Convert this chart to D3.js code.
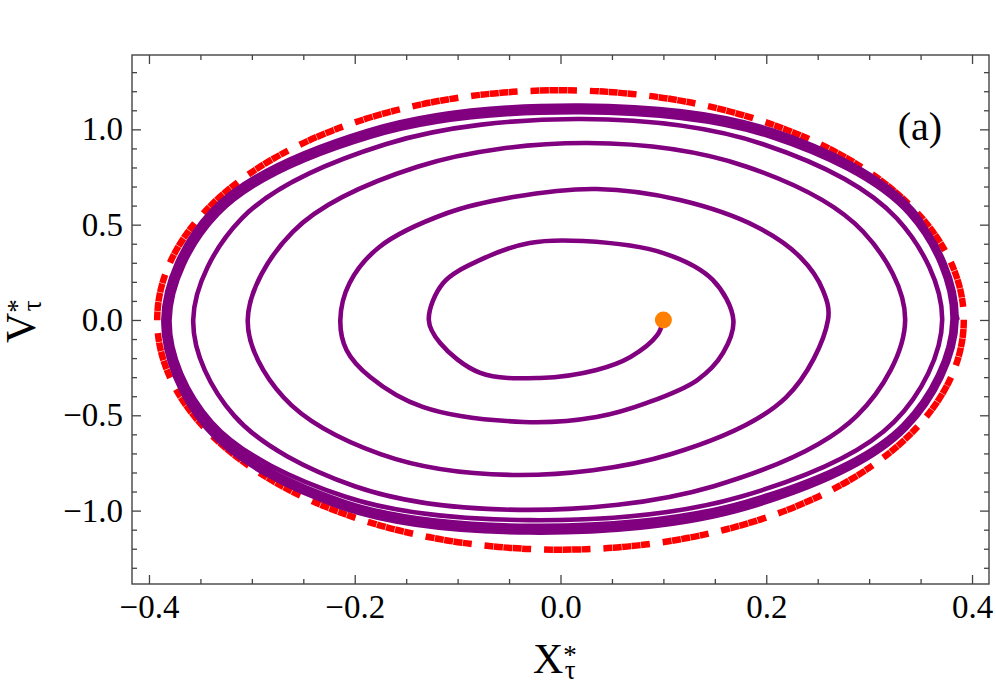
<!DOCTYPE html>
<html>
<head>
<meta charset="utf-8">
<script src="https://cdn.jsdelivr.net/npm/d3@7"></script>
<style>
  body { margin: 0; background: #fff; }
  svg text { font-family: "Liberation Serif", "DejaVu Serif", serif; }
</style>
</head>
<body>
<div id="chart"></div>
<script>
// tick values
var xMajor = [-0.4, -0.2, 0.0, 0.2, 0.4];
var xMinor = [-0.35, -0.3, -0.25, -0.15, -0.1, -0.05, 0.05, 0.1, 0.15, 0.25, 0.3, 0.35];
var vMajor = [-1.0, -0.5, 0.0, 0.5, 1.0];
var vMinor = [-1.3, -1.2, -1.1, -0.9, -0.8, -0.7, -0.6, -0.4, -0.3, -0.2, -0.1,
              0.1, 0.2, 0.3, 0.4, 0.6, 0.7, 0.8, 0.9, 1.1, 1.2, 1.3];

// trajectory, [X, V], one array per turn
var turn1 = [
  [0.100, 0.000], [0.094, -0.080], [0.068, -0.194], [0.035, -0.262], [-0.020, -0.304],
  [-0.078, -0.278], [-0.117, -0.121], [-0.128, 0.000], [-0.114, 0.194], [-0.078, 0.315],
  [-0.030, 0.404], [0.022, 0.414], [0.100, 0.351], [0.148, 0.210], [0.168, 0.000]
];
var turn2 = [
  [0.158, -0.173], [0.133, -0.315], [0.084, -0.435], [0.035, -0.509], [-0.036, -0.535],
  [-0.134, -0.456], [-0.185, -0.299], [-0.208, -0.157], [-0.214, 0.000], [-0.205, 0.194],
  [-0.176, 0.383], [-0.110, 0.561], [-0.046, 0.645], [0.035, 0.687], [0.116, 0.629],
  [0.191, 0.488], [0.233, 0.330], [0.255, 0.157], [0.260, 0.000]
];
var turn3 = [
  [0.219, -0.407], [0.107, -0.704], [-0.046, -0.813],
  [-0.175, -0.704], [-0.269, -0.407], [-0.304, 0.000],
  [-0.260, 0.464], [-0.139, 0.804], [0.026, 0.928],
  [0.181, 0.804], [0.294, 0.464], [0.335, 0.000]
];
var turn4 = [
  [0.288, -0.503], [0.149, -0.872], [-0.040, -0.996],
  [-0.200, -0.872], [-0.317, -0.503], [-0.357, 0.000],
  [-0.310, 0.532], [-0.170, 0.922], [0.020, 1.054],
  [0.197, 0.922], [0.327, 0.532], [0.371, 0.000]
];
var turn5 = [
  [0.324, -0.536], [0.175, -0.927], [-0.030, -1.050],
  [-0.209, -0.927], [-0.339, -0.536], [-0.380, 0.000],
  [-0.333, 0.556], [-0.184, 0.962], [0.020, 1.090],
  [0.204, 0.962], [0.339, 0.556], [0.381, 0.000]
];
var turn6 = [
  [0.333, -0.551], [0.180, -0.954], [-0.030, -1.080],
  [-0.210, -0.954], [-0.342, -0.551], [-0.383, 0.000],
  [-0.336, 0.564], [-0.186, 0.976], [0.020, 1.105],
  [0.205, 0.976], [0.341, 0.564], [0.383, 0.000]
];
var turn7 = [
  [0.335, -0.561], [0.181, -0.971], [-0.030, -1.100],
  [-0.211, -0.971], [-0.344, -0.561], [-0.385, 0.000],
  [-0.338, 0.570], [-0.187, 0.987], [0.020, 1.118],
  [0.206, 0.987], [0.342, 0.570], [0.385, 0.000]
];
var turn8 = [
  [0.336, -0.569], [0.182, -0.985], [-0.030, -1.115],
  [-0.212, -0.985], [-0.344, -0.569], [-0.386, 0.000],
  [-0.339, 0.574], [-0.187, 0.993], [0.020, 1.125],
  [0.207, 0.993], [0.343, 0.574], [0.386, 0.000]
];

// starting point and the dashed outer orbit (semi-axes in X and V)
var startPoint = [0.1, 0.0];
var orbitSemiAxes = [0.392, 1.205];

/********************************************************/
var svgWidth = 996, svgHeight = 690;
var frame = { left: 132, right: 989, top: 55, bottom: 584 };

var svg = d3.select("#chart").append("svg")
  .attr("width", svgWidth)
  .attr("height", svgHeight);

var x = d3.scaleLinear().domain([-0.4165, 0.4165]).range([frame.left, frame.right]);
var y = d3.scaleLinear().domain([-1.385, 1.39]).range([frame.bottom, frame.top]);

var axisColor = "#444";

function styleAxis(g, fontSize) {
  g.select(".domain").remove();
  g.selectAll("line").attr("stroke", axisColor).attr("stroke-width", 1.3);
  g.attr("font-size", fontSize).attr("font-family", null);
  g.selectAll("text").attr("fill", "#000");
}

// bottom
svg.append("g").attr("transform", "translate(0," + frame.bottom + ")")
  .call(d3.axisBottom(x).tickValues(xMajor).tickSize(-9).tickPadding(11).tickFormat(d3.format(".1f")))
  .call(styleAxis, 33);
svg.append("g").attr("transform", "translate(0," + frame.bottom + ")")
  .call(d3.axisBottom(x).tickValues(xMinor).tickSize(-5).tickFormat(""))
  .call(styleAxis, 10);
// top
svg.append("g").attr("transform", "translate(0," + frame.top + ")")
  .call(d3.axisTop(x).tickValues(xMajor).tickSize(-9).tickFormat(""))
  .call(styleAxis, 10);
svg.append("g").attr("transform", "translate(0," + frame.top + ")")
  .call(d3.axisTop(x).tickValues(xMinor).tickSize(-5).tickFormat(""))
  .call(styleAxis, 10);
// left
svg.append("g").attr("transform", "translate(" + frame.left + ",0)")
  .call(d3.axisLeft(y).tickValues(vMajor).tickSize(-9).tickPadding(9).tickFormat(d3.format(".1f")))
  .call(styleAxis, 33);
svg.append("g").attr("transform", "translate(" + frame.left + ",0)")
  .call(d3.axisLeft(y).tickValues(vMinor).tickSize(-5).tickFormat(""))
  .call(styleAxis, 10);
// right
svg.append("g").attr("transform", "translate(" + frame.right + ",0)")
  .call(d3.axisRight(y).tickValues(vMajor).tickSize(-9).tickFormat(""))
  .call(styleAxis, 10);
svg.append("g").attr("transform", "translate(" + frame.right + ",0)")
  .call(d3.axisRight(y).tickValues(vMinor).tickSize(-5).tickFormat(""))
  .call(styleAxis, 10);

svg.append("rect")
  .attr("x", frame.left).attr("y", frame.top)
  .attr("width", frame.right - frame.left).attr("height", frame.bottom - frame.top)
  .attr("fill", "none").attr("stroke", axisColor).attr("stroke-width", 1.4);

/********************************************************/
// dashed outer orbit
var orbit = svg.append("ellipse")
  .attr("cx", x(0)).attr("cy", y(0))
  .attr("rx", x(orbitSemiAxes[0]) - x(0))
  .attr("ry", y(0) - y(orbitSemiAxes[1]))
  .attr("fill", "none")
  .attr("stroke", "#ff0000")
  .attr("stroke-width", 6.5);

var perimeter = orbit.node().getTotalLength();
var nDash = Math.round(perimeter / 60);
var k = perimeter / nDash / 60;
var sq = 9.0 * k, thin = 0.5 * k, gap = 13.0 * k;
orbit.attr("stroke-dasharray", [sq, thin, sq, thin, sq, thin, sq, thin, sq, gap].join(","))
  .attr("stroke-dashoffset", 0.3 * k);

// trajectory
var trajectory = [].concat(turn1, turn2, turn3, turn4, turn5, turn6, turn7, turn8);

var line = d3.line()
  .x(d => x(d[0]))
  .y(d => y(d[1]))
  .curve(d3.curveCatmullRom.alpha(0.5));

svg.append("path")
  .datum(trajectory)
  .attr("d", line)
  .attr("fill", "none")
  .attr("stroke", "#800080")
  .attr("stroke-width", 4.6)
  .attr("stroke-linejoin", "round");

svg.append("circle")
  .attr("cx", x(startPoint[0]))
  .attr("cy", y(startPoint[1]))
  .attr("r", 8.5)
  .attr("fill", "#ff8000");

/********************************************************/
// labels
svg.append("text")
  .attr("x", 920).attr("y", 140)
  .attr("text-anchor", "middle")
  .attr("font-size", 40)
  .text("(a)");

var xTitle = svg.append("text")
  .attr("transform", "translate(533,673)")
  .attr("font-size", 42);
xTitle.append("tspan").text("X");
xTitle.append("tspan").attr("font-size", 27).attr("dy", -9).text("*");
xTitle.append("tspan").attr("font-size", 27).attr("dx", -12).attr("dy", 15).text("\u03c4");

var yTitle = svg.append("text")
  .attr("transform", "translate(35,343) rotate(-90)")
  .attr("font-size", 42);
yTitle.append("tspan").text("V");
yTitle.append("tspan").attr("font-size", 27).attr("dy", -9).text("*");
yTitle.append("tspan").attr("font-size", 27).attr("dx", -12).attr("dy", 15).text("\u03c4");
</script>
</body>
</html>
